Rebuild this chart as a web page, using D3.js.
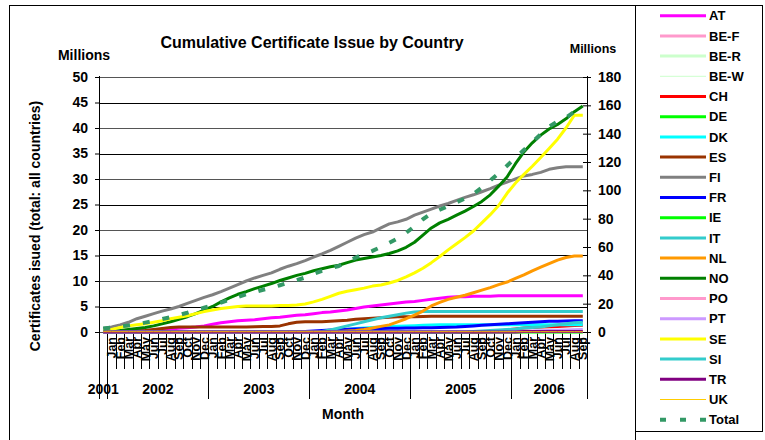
<!DOCTYPE html>
<html>
<head>
<meta charset="utf-8">
<script src="https://cdnjs.cloudflare.com/ajax/libs/d3/7.8.5/d3.min.js"></script>
<style>
  body { margin: 0; background: #fff; }
  text { font-family: "Liberation Sans", Arial, sans-serif; font-weight: bold; fill: #000; }
</style>
</head>
<body>
<svg id="chart" width="765" height="440"></svg>
<script>
// categories: one point for 2001, then monthly from Jan 2002 to Sep 2006
const months = ["",
  "Jan","Feb","Mar","Apr","May","Jun","Jul","Aug","Sep","Oct","Nov","Dec",
  "Jan","Feb","Mar","Apr","May","Jun","Jul","Aug","Sep","Oct","Nov","Dec",
  "Jan","Feb","Mar","Apr","May","Jun","Jul","Aug","Sep","Oct","Nov","Dec",
  "Jan","Feb","Mar","Apr","May","Jun","Jul","Aug","Sep","Oct","Nov","Dec",
  "Jan","Feb","Mar","Apr","May","Jun","Jul","Aug","Sep"];
const years = ["2001", "2002", "2003", "2004", "2005", "2006"];
const yearMonths = [1, 12, 12, 12, 12, 9];

const leftTicks = [0, 5, 10, 15, 20, 25, 30, 35, 40, 45, 50];
const rightTicks = [0, 20, 40, 60, 80, 100, 120, 140, 160, 180];

// millions of certificates, cumulative (left axis)
const AT = [0.1,0.1,0.15,0.2,0.25,0.3,0.4,0.5,0.6,0.75, 0.85,1.0,1.2,1.5,1.8,2.0,2.2,2.3,2.4,2.6, 2.8,2.9,3.1,3.3,3.4,3.6,3.8,3.9,4.1,4.3, 4.6,4.9,5.1,5.3,5.5,5.7,5.9,6.0,6.2,6.4, 6.6,6.8,6.9,6.9,7.0,7.0,7.0,7.1,7.1,7.1, 7.1,7.1,7.1,7.1,7.1,7.1,7.1,7.1];
const BEF = [0,0,0,0,0,0,0,0,0,0, 0,0,0,0,0,0,0,0,0,0, 0,0,0,0,0,0,0,0,0,0, 0,0,0,0,0,0,0,0,0,0, 0.1,0.1,0.1,0.1,0.1,0.1,0.1,0.1,0.1,0.1, 0.1,0.1,0.1,0.1,0.1,0.1,0.1,0.1];
const BER = [0,0,0,0,0,0,0,0,0,0, 0,0,0,0,0,0,0,0,0,0, 0,0,0,0,0,0,0,0,0,0, 0,0,0,0,0,0,0,0,0,0, 0,0,0,0,0,0,0,0,0,0, 0,0,0,0,0,0,0,0];
const BEW = [0,0,0,0,0,0,0,0,0,0, 0,0,0,0,0,0,0,0,0,0, 0,0,0,0,0,0,0,0,0,0, 0,0,0,0,0,0,0,0,0,0, 0,0,0,0,0,0,0,0,0,0, 0,0,0,0,0,0,0,0];
const CH = [0,0,0,0,0,0,0,0,0,0, 0,0,0,0,0,0,0,0,0,0, 0,0,0,0,0,0,0,0,0,0, 0,0,0,0,0,0,0,0,0,0, 0,0,0,0,0,0,0.1,0.2,0.4,0.6, 0.8,0.9,1.0,1.05,1.1,1.2,1.25,1.3];
const DE = [0.1,0.1,0.1,0.1,0.1,0.1,0.1,0.1,0.1,0.1, 0.1,0.1,0.1,0.1,0.1,0.1,0.1,0.1,0.1,0.1, 0.1,0.1,0.1,0.1,0.1,0.1,0.1,0.1,0.1,0.1, 0.1,0.1,0.1,0.1,0.1,0.1,0.1,0.1,0.1,0.1, 0.1,0.1,0.1,0.1,0.1,0.1,0.1,0.1,0.1,0.1, 0.1,0.1,0.1,0.1,0.1,0.1,0.1,0.1];
const DK = [0,0,0,0,0,0,0,0,0,0, 0,0,0,0,0,0,0,0,0,0, 0,0,0,0,0,0,0,0.1,0.3,0.5, 0.7,0.8,0.9,1.0,1.1,1.15,1.2,1.25,1.3,1.35, 1.4,1.4,1.4,1.4,1.4,1.4,1.4,1.4,1.4,1.4, 1.4,1.4,1.4,1.4,1.4,1.4,1.4,1.4];
const ES = [0.1,0.1,0.1,0.1,0.2,0.3,0.5,0.7,0.9,1.0, 1.0,1.0,1.0,1.0,1.0,1.0,1.0,1.0,1.05,1.1, 1.1,1.2,1.6,1.9,2.0,2.0,2.0,2.1,2.2,2.3, 2.5,2.6,2.7,2.8,2.9,3.0,3.0,3.0,3.05,3.1, 3.1,3.1,3.1,3.1,3.1,3.1,3.1,3.1,3.1,3.1, 3.1,3.1,3.1,3.1,3.1,3.1,3.1,3.1];
const FI = [0.7,1.0,1.4,1.9,2.6,3.1,3.6,4.1,4.5,5.0, 5.6,6.2,6.8,7.3,7.9,8.6,9.3,10.0,10.6,11.1, 11.6,12.3,12.9,13.4,14.0,14.7,15.3,16.0,16.8,17.6, 18.4,19.1,19.6,20.4,21.2,21.6,22.1,22.9,23.5,24.1, 24.7,25.2,25.8,26.4,26.9,27.5,28.1,28.8,29.4,30.0, 30.6,30.9,31.3,31.9,32.2,32.4,32.4,32.4];
const FR = [0,0,0,0,0,0,0,0,0,0, 0,0,0,0,0,0,0,0,0,0, 0,0,0,0,0.1,0.2,0.3,0.4,0.5,0.55, 0.6,0.65,0.7,0.7,0.75,0.75,0.8,0.8,0.85,0.85, 0.9,0.95,1.0,1.1,1.2,1.3,1.4,1.5,1.6,1.7, 1.8,1.9,2.0,2.1,2.1,2.15,2.2,2.2];
const IE = [0,0,0,0,0,0,0,0,0,0, 0,0,0,0,0,0,0,0,0,0, 0,0,0,0,0,0,0,0,0,0, 0,0,0,0,0,0,0,0,0,0, 0,0,0,0,0,0,0,0,0,0, 0,0,0,0,0,0,0,0];
const IT = [0,0,0,0,0,0,0,0,0,0, 0,0,0,0,0,0,0,0,0,0, 0,0,0,0,0,0,0.1,0.4,0.8,1.2, 1.6,2.0,2.4,2.8,3.1,3.4,3.7,3.9,4.0,4.0, 4.0,4.0,4.0,4.0,4.0,4.0,4.0,4.0,4.0,4.0, 4.0,4.0,4.0,4.0,4.0,4.0,4.0,4.0];
const NL = [0,0,0,0,0,0,0,0,0,0, 0,0,0,0,0,0,0,0,0,0, 0,0,0,0,0,0,0,0.05,0.1,0.2, 0.3,0.5,0.8,1.1,1.4,2.0,2.6,3.3,4.1,5.1, 5.8,6.4,6.8,7.2,7.7,8.2,8.7,9.3,9.8,10.5, 11.2,12.0,12.7,13.4,14.1,14.6,14.9,14.9];
const NO = [0.1,0.2,0.3,0.5,0.7,0.9,1.2,1.6,2.0,2.5, 3.0,3.6,4.3,5.0,5.9,6.7,7.4,7.9,8.5,9.0, 9.5,10.1,10.6,11.1,11.5,12.0,12.4,12.8,13.1,13.6, 14.1,14.4,14.7,15.0,15.4,15.9,16.6,17.6,19.0,20.4, 21.4,22.1,22.9,23.7,24.6,25.6,26.9,28.6,30.4,33.0, 35.3,37.1,38.6,39.8,40.7,41.8,43.2,44.3];
const PO = [0,0,0,0,0,0,0,0,0,0, 0,0,0,0,0,0,0,0,0,0, 0,0,0,0,0,0,0,0,0,0, 0,0,0,0,0,0,0.1,0.1,0.1,0.1, 0.1,0.1,0.1,0.1,0.1,0.1,0.1,0.1,0.1,0.1, 0.1,0.1,0.1,0.1,0.1,0.1,0.1,0.1];
const PT = [0,0,0,0,0,0,0,0,0,0, 0,0,0,0,0,0,0,0,0,0, 0,0,0,0,0,0,0,0,0,0, 0.05,0.05,0.05,0.05,0.05,0.05,0.05,0.05,0.05,0.05, 0.05,0.05,0.05,0.05,0.05,0.05,0.05,0.05,0.05,0.1, 0.15,0.2,0.25,0.3,0.35,0.4,0.45,0.5];
const SE = [0.3,0.5,0.9,1.2,1.4,1.6,1.9,2.2,2.6,2.9, 3.2,3.6,4.0,4.3,4.6,4.8,5.0,5.1,5.1,5.1, 5.1,5.2,5.2,5.3,5.5,5.9,6.4,7.0,7.6,8.0, 8.3,8.6,9.0,9.2,9.6,10.1,10.8,11.6,12.5,13.6, 14.8,16.1,17.3,18.5,19.8,21.4,23.0,24.8,27.2,29.2, 30.9,32.5,34.2,36.0,37.8,40.0,42.5,42.5];
const SI = [0,0,0,0,0,0,0,0,0,0, 0,0,0,0,0,0,0,0,0,0, 0,0,0,0,0,0,0,0,0,0, 0,0,0,0,0,0,0,0,0,0, 0,0,0,0,0.1,0.2,0.3,0.4,0.5,0.6, 0.8,0.9,1.0,1.2,1.4,1.6,1.8,1.9];
const TR = [0,0,0,0,0,0,0,0,0,0, 0,0,0,0,0,0,0,0,0,0, 0,0,0,0,0,0,0,0,0,0, 0,0,0,0,0,0,0,0,0,0, 0,0,0,0,0,0,0,0,0,0, 0.1,0.1,0.1,0.1,0.1,0.1,0.1,0.1];
const UK = [0.05,0.05,0.05,0.05,0.05,0.05,0.05,0.05,0.05,0.05, 0.05,0.05,0.05,0.05,0.05,0.05,0.05,0.05,0.05,0.05, 0.05,0.05,0.05,0.05,0.05,0.05,0.05,0.05,0.05,0.05, 0.05,0.05,0.05,0.05,0.05,0.05,0.05,0.05,0.05,0.05, 0.05,0.05,0.05,0.05,0.05,0.05,0.05,0.05,0.05,0.05, 0.05,0.05,0.05,0.05,0.05,0.05,0.05,0.05];
// total of all countries (right axis)
const Total = [2.5,3.2,3.9,4.6,5.5,6.6,7.8,9.1,10.5,12.0, 13.6,15.4,17.2,19.0,20.8,22.8,24.7,26.6,28.1,29.8, 31.3,33.0,34.8,36.6,38.5,41.0,43.2,45.0,46.6,49.5, 52.5,55.0,57.3,60.0,62.9,66.0,70.0,74.6,79.6,83.7, 86.3,88.8,91.6,94.2,97.5,102.0,107.0,112.0,117.4,123.0, 128.5,134.0,139.5,145.0,148.6,151.2,155.5,159.5];

// series table with styles (drawing order = legend order)
const series = [
  {name: "AT",   values: AT,    color: "#FF00FF", width: 3},
  {name: "BE-F", values: BEF,   color: "#FF99CC", width: 3},
  {name: "BE-R", values: BER,   color: "#CCFFCC", width: 3},
  {name: "BE-W", values: BEW,   color: "#CCFFCC", width: 1},
  {name: "CH",   values: CH,    color: "#FF0000", width: 3},
  {name: "DE",   values: DE,    color: "#00FF00", width: 3},
  {name: "DK",   values: DK,    color: "#00FFFF", width: 3},
  {name: "ES",   values: ES,    color: "#993300", width: 3},
  {name: "FI",   values: FI,    color: "#808080", width: 3},
  {name: "FR",   values: FR,    color: "#0000FF", width: 3},
  {name: "IE",   values: IE,    color: "#00FF00", width: 3},
  {name: "IT",   values: IT,    color: "#33CCCC", width: 3},
  {name: "NL",   values: NL,    color: "#FF9900", width: 3},
  {name: "NO",   values: NO,    color: "#008000", width: 3},
  {name: "PO",   values: PO,    color: "#FF99CC", width: 3},
  {name: "PT",   values: PT,    color: "#CC99FF", width: 3},
  {name: "SE",   values: SE,    color: "#FFFF00", width: 3},
  {name: "SI",   values: SI,    color: "#33CCCC", width: 3},
  {name: "TR",   values: TR,    color: "#800080", width: 3},
  {name: "UK",   values: UK,    color: "#FFCC00", width: 1},
  {name: "Total", values: Total, color: "#339966", width: 4, dash: "7,13", right: true}
];

const svg = d3.select("#chart");
svg.append("rect").attr("width", 765).attr("height", 440).attr("fill", "#fff");

// borders
svg.append("rect").attr("x", 9.5).attr("y", 5.5).attr("width", 626).attr("height", 450)
  .attr("fill", "none").attr("stroke", "#000");
svg.append("rect").attr("x", 635.5).attr("y", 5.5).attr("width", 127).attr("height", 426)
  .attr("fill", "#fff").attr("stroke", "#000");

const plotL = 99, plotR = 587, plotT = 77, plotB = 332;
const x = d3.scaleBand().domain(d3.range(months.length)).range([plotL, plotR]);
const yL = d3.scaleLinear().domain([0, 50]).range([plotB, plotT]);
const yR = d3.scaleLinear().domain([0, 180]).range([plotB, plotT]);
const cx = i => x(i) + x.bandwidth() / 2;

// gridlines
svg.append("g").selectAll("line").data(leftTicks).join("line")
  .attr("x1", plotL).attr("x2", plotR)
  .attr("y1", d => Math.round(yL(d)) + 0.5).attr("y2", d => Math.round(yL(d)) + 0.5)
  .attr("stroke", d => d % 10 === 0 ? "#555" : "#000").attr("stroke-width", 1);

// left axis
const gL = svg.append("g").attr("transform", `translate(${plotL},0)`)
  .call(d3.axisLeft(yL).tickValues(leftTicks).tickSize(4).tickPadding(7).tickSizeOuter(0));
gL.select(".domain").remove();
gL.selectAll("text").attr("font-size", 14).style("font-family", null);

// right axis
const gR = svg.append("g").attr("transform", `translate(${plotR},0)`)
  .call(d3.axisRight(yR).tickValues(rightTicks).tickSize(4).tickPadding(7).tickSizeOuter(0));
gR.select(".domain").remove();
gR.selectAll(".tick line").attr("x1", -4);
gR.selectAll("text").attr("font-size", 14).style("font-family", null);

// category boundaries
const bounds = d3.range(months.length).map(i => x(i)).concat([plotR]);
const yearStarts = [0];
yearMonths.forEach(n => yearStarts.push(yearStarts[yearStarts.length - 1] + n));
svg.append("g").selectAll("line").data(bounds).join("line")
  .attr("x1", d => Math.round(d) + 0.5).attr("x2", d => Math.round(d) + 0.5)
  .attr("y1", plotB)
  .attr("y2", (d, i) => yearStarts.includes(i) ? 399 : 369)
  .attr("stroke", "#000");
svg.append("line").attr("x1", plotL + 0.5).attr("x2", plotL + 0.5).attr("y1", plotT - 1).attr("y2", 399).attr("stroke", "#000");
svg.append("line").attr("x1", plotR + 0.5).attr("x2", plotR + 0.5).attr("y1", plotT - 1).attr("y2", 399).attr("stroke", "#000");

// month labels
svg.append("g").selectAll("text").data(months).join("text")
  .attr("transform", (d, i) => `translate(${cx(i)},337) rotate(-90)`)
  .attr("text-anchor", "end").attr("dy", "0.36em")
  .attr("font-size", 12.5)
  .text(d => d);

// year labels
svg.append("g").selectAll("text").data(years).join("text")
  .attr("x", (d, i) => (x(yearStarts[i]) + (yearStarts[i + 1] < months.length ? x(yearStarts[i + 1]) : plotR)) / 2)
  .attr("y", 394).attr("text-anchor", "middle").attr("font-size", 14)
  .text(d => d);

// lines
const lineL = d3.line().x((d, i) => cx(i)).y(d => yL(d));
const lineR = d3.line().x((d, i) => cx(i)).y(d => yR(d));
svg.append("g").selectAll("path").data(series).join("path")
  .attr("d", s => (s.right ? lineR : lineL)(s.values))
  .attr("fill", "none")
  .attr("stroke", s => s.color)
  .attr("stroke-width", s => s.width)
  .attr("stroke-dasharray", s => s.dash || null)
  .attr("stroke-linejoin", "round");

// titles
svg.append("text").attr("x", 312).attr("y", 48).attr("text-anchor", "middle").attr("font-size", 16)
  .text("Cumulative Certificate Issue by Country");
svg.append("text").attr("x", 84).attr("y", 60).attr("text-anchor", "middle").attr("font-size", 14).text("Millions");
svg.append("text").attr("x", 593).attr("y", 53).attr("text-anchor", "middle").attr("font-size", 12.5).text("Millions");
svg.append("text").attr("x", 343).attr("y", 419).attr("text-anchor", "middle").attr("font-size", 14).text("Month");
svg.append("text").attr("transform", "translate(40,226) rotate(-90)").attr("text-anchor", "middle").attr("font-size", 14)
  .text("Certificates isued (total: all countries)");

// legend
const leg = svg.append("g").selectAll("g").data(series).join("g")
  .attr("transform", (d, i) => `translate(0,${15.7 + i * 20.2})`);
leg.append("line").attr("x1", 660).attr("x2", 706)
  .attr("stroke", s => s.color)
  .attr("stroke-width", s => s.width)
  .attr("stroke-dasharray", s => s.dash ? "6,14" : null);
leg.append("text").attr("x", 709).attr("dy", "0.36em").attr("font-size", 13).text(s => s.name);
</script>
</body>
</html>
